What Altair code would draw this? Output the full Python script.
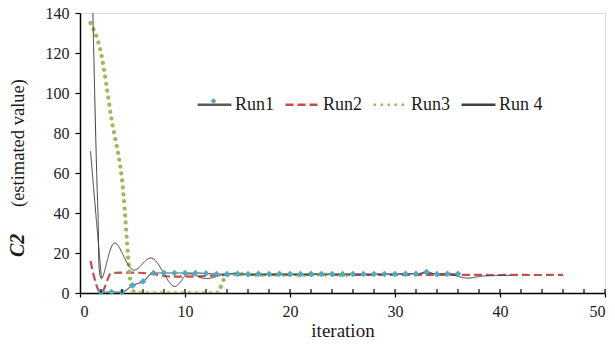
import altair as alt
import pandas as pd

# ---- data ----
run1_x = list(range(2, 37))
run1_y = [0.5, 0.5, 0.5, 3.8, 5.8, 10, 10, 10, 10, 10, 9.8, 9.5, 9.5, 9.6, 9.4, 9.6,
          9.5, 9.6, 9.5, 9.4, 9.6, 9.5, 9.5, 9.4, 9.5, 9.5, 9.5, 9.5, 9.5, 9.6, 9.6,
          10.5, 9.4, 9.6, 9.6]

run2_x = list(range(1, 47))
run2_y = [16, 0, 10, 10.2, 10.2, 10, 9.5, 8.5, 8.2, 8.2, 8.3, 8.5, 8.8, 9, 9, 9, 9.1, 9.1,
          9, 9, 9.1, 9.1, 9, 9, 9.1, 9.1, 9, 9, 9.1, 9.1, 9, 9, 9.1, 9.1, 9, 9, 9.1, 9.1,
          9, 9, 9.1, 9.1, 9, 9, 9.1, 9.1]

run3_x = list(range(1, 27))
run3_y = [135, 120, 87, 57, 1, 0, 0, 0, 0, 0, 0, 0, 0, 9, 9.5, 9.2, 9, 9.3, 9, 9.2, 9,
          9, 9.3, 9, 9, 9]

# Run 4 (smoothed thin line) drawn in two pieces
run4a_x = [1.0, 1.5, 2.05]
run4a_y = [71, 40, 7.3]
run4b_x = [1.15, 1.7, 2.05, 3.3, 5.1, 6.8, 9.0, 10.3, 12, 14, 16, 20, 25, 30, 35, 36.8, 38.5, 41]
run4b_y = [160, 42, 7.3, 25, 11.5, 17.5, 3.3, 9.5, 7.2, 9.6, 9.3, 9.3, 9.3, 9.4, 9.5, 7.5, 8.5, 8.8]

series = ["Run1", "Run2", "Run3", "Run 4"]
colors = ["#5a5a5a", "#c0504d", "#9bbb59", "#404040"]
dashes = [[1, 0], [8, 4], [2.5, 4.5], [1, 0]]
x_ticks = [0, 10, 20, 30, 40, 50]
y_ticks = [0, 20, 40, 60, 80, 100, 120, 140]
minor_ticks = list(range(2, 51, 2))


def frame(name, xs, ys, seg=None):
    return pd.DataFrame({"series": name, "x": xs, "y": ys,
                         "seg": seg or name, "ord": list(range(len(xs)))})


d1 = frame("Run1", run1_x, run1_y)
d2 = frame("Run2", run2_x, run2_y)
d3 = frame("Run3", run3_x, run3_y)
d4 = pd.concat([frame("Run 4", run4a_x, run4a_y, "a"), frame("Run 4", run4b_x, run4b_y, "b")])

FONT = "Liberation Serif, Times New Roman, serif"

xscale = alt.Scale(domain=[0, 50], nice=False)
yscale = alt.Scale(domain=[0, 140], nice=False)

xenc = alt.X("x:Q", scale=xscale,
             axis=alt.Axis(values=x_ticks, title="iteration", tickSize=4, titlePadding=2))
yenc = alt.Y("y:Q", scale=yscale,
             axis=alt.Axis(values=y_ticks, title=None, tickSize=5))

color = alt.Color("series:N", scale=alt.Scale(domain=series, range=colors),
                  legend=alt.Legend(title=None, orient="none", direction="horizontal",
                                    legendX=116, legendY=73, symbolType="stroke",
                                    symbolSize=1150, labelFontSize=18,
                                    labelColor="#1a1a1a", labelOffset=2, columnPadding=5,
                                    padding=0, symbolStrokeWidth=2.5))
dash = alt.StrokeDash("series:N", scale=alt.Scale(domain=series, range=dashes), legend=None)


def line_layer(df, width, interp="monotone"):
    return alt.Chart(df).mark_line(interpolate=interp, clip=True, strokeWidth=width).encode(
        x=xenc, y=yenc, color=color, strokeDash=dash, detail="seg:N", order="ord:Q")


l1 = line_layer(d1, 1.1)
l2 = line_layer(d2, 2.2)
l3 = alt.Chart(d3).mark_line(interpolate="monotone", clip=True, strokeWidth=4.2,
                             strokeDash=[0.01, 7], strokeCap="round").encode(
    x=xenc, y=yenc, color=color, detail="seg:N", order="ord:Q")
l4 = line_layer(d4, 1, "catmull-rom")

markers = alt.Chart(d1).mark_point(shape="diamond", filled=True, color="#4bacc6",
                                   size=45, opacity=1).encode(x=xenc, y=yenc)

# legend marker glyph for Run1
legend_marker = alt.Chart(pd.DataFrame({"k": ["Run1"]})).mark_point(
    shape="diamond", filled=True, color="#4bacc6", size=30, opacity=1).encode(
    x=alt.value(133.5), y=alt.value(88))

ticks = alt.Chart(pd.DataFrame({"x": minor_ticks})).mark_rule(color="black", strokeWidth=1.2).encode(
    x=xenc, y=alt.value(280), y2=alt.value(276))

t1 = alt.Chart(pd.DataFrame({"t": ["C2"]})).mark_text(
    angle=270, align="left", baseline="middle", font=FONT, fontSize=20,
    fontWeight="bold", fontStyle="italic", color="#1a1a1a").encode(
    text="t:N", x=alt.value(-62), y=alt.value(244))
t2 = alt.Chart(pd.DataFrame({"t": ["(estimated value)"]})).mark_text(
    angle=270, align="left", baseline="middle", font=FONT, fontSize=18.5,
    color="#1a1a1a").encode(text="t:N", x=alt.value(-62), y=alt.value(194))

chart = alt.layer(l1, l2, l3, l4, markers, ticks, t1, t2, legend_marker).properties(
    width=525, height=280,
    autosize=alt.AutoSizeParams(type="none"),
    padding={"left": 80, "top": 13, "right": 10, "bottom": 51},
).configure_view(stroke=None).configure(background="white", font=FONT).configure_axis(
    labelFont=FONT, titleFont=FONT, labelFontSize=16, titleFontSize=19,
    titleFontWeight="normal", labelColor="#1a1a1a", titleColor="#1a1a1a",
    grid=False, domainColor="black", domainWidth=1.5, tickColor="black", tickWidth=1.2,
    labelPadding=6, labelOverlap=False
).configure_legend(labelFont=FONT)

chart.save("out.html", embed_options={"renderer": "svg", "actions": False})
